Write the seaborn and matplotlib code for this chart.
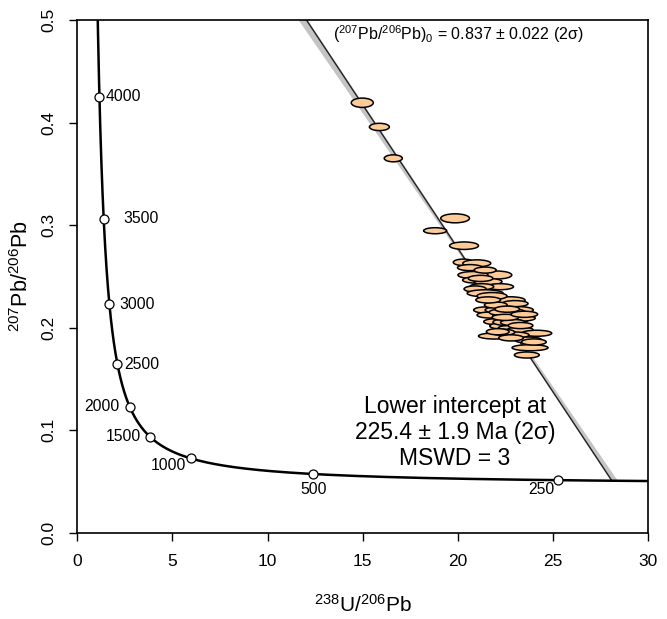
import numpy as np
import pandas as pd
import matplotlib
matplotlib.use("Agg")
import matplotlib.pyplot as plt
import seaborn as sns
from matplotlib.patches import Ellipse

# ---- constants of the U-Pb system (Tera-Wasserburg concordia) ----
LAMBDA238 = 1.55125e-10
LAMBDA235 = 9.8485e-10
U238_U235 = 137.818

# ---- chart values ----
age_marks = [250, 500, 1000, 1500, 2000, 2500, 3000, 3500, 4000]
pb0 = 0.837          # (207Pb/206Pb)0
pb0_err = 0.022
lower_age = 225.4    # Ma
lower_age_err = 1.9
mswd = 3

# measured ellipses: centre U238/Pb206, centre Pb207/Pb206, full width, full height
ell_x = [14.98, 15.88, 16.61, 19.86, 18.81, 20.33, 20.29, 21.00, 22.05, 20.80,
         20.91, 21.59, 22.22, 21.26, 20.91, 21.44, 22.22, 22.40, 21.44, 21.70,
         22.58, 23.10, 23.01, 22.05, 22.31, 22.75, 23.28, 24.15, 21.96, 23.01,
         23.71, 23.80, 23.63, 22.75, 21.80, 20.64, 23.28, 22.64, 22.07, 22.86,
         22.37, 21.44, 23.01, 22.30, 22.90, 22.50, 23.30, 22.00, 21.60, 23.50,
         22.80, 22.10, 24.00, 21.20, 22.60]
ell_y = [0.4193, 0.3957, 0.3651, 0.3066, 0.2945, 0.2799, 0.2637, 0.2627, 0.2513, 0.2513,
         0.2464, 0.2448, 0.2399, 0.2399, 0.2377, 0.2335, 0.2253, 0.2204, 0.2172, 0.2123,
         0.2123, 0.2172, 0.2074, 0.2058, 0.2016, 0.1993, 0.1977, 0.1945, 0.1918, 0.1928,
         0.1879, 0.1804, 0.1733, 0.2267, 0.2308, 0.2585, 0.2092, 0.2054, 0.2172, 0.2152,
         0.1955, 0.2561, 0.2234, 0.2150, 0.2050, 0.2100, 0.2020, 0.2220, 0.2270, 0.2130,
         0.1900, 0.1960, 0.1860, 0.2480, 0.2180]
ell_w = [1.16, 1.05, 0.95, 1.51, 1.21, 1.52, 1.05, 1.47, 1.58, 1.58,
         1.31, 1.47, 1.42, 1.26, 1.16, 1.89, 1.37, 1.47, 1.21, 1.37,
         1.47, 1.74, 1.37, 1.37, 1.26, 1.26, 1.37, 1.58, 1.74, 1.47,
         1.42, 1.89, 1.31, 1.58, 1.58, 1.31, 1.58, 1.58, 1.26, 1.37,
         1.26, 1.16, 1.37, 1.30, 1.30, 1.40, 1.30, 1.20, 1.30, 1.40,
         1.30, 1.20, 1.30, 1.30, 1.30]
ell_h = [0.0091, 0.0071, 0.0068, 0.0088, 0.0059, 0.0073, 0.0063, 0.0068, 0.0078, 0.0068,
         0.0059, 0.0063, 0.0059, 0.0059, 0.0059, 0.0068, 0.0059, 0.0068, 0.0059, 0.0059,
         0.0068, 0.0068, 0.0068, 0.0059, 0.0059, 0.0059, 0.0059, 0.0059, 0.0059, 0.0059,
         0.0059, 0.0059, 0.0059, 0.0068, 0.0068, 0.0059, 0.0059, 0.0068, 0.0059, 0.0059,
         0.0059, 0.0059, 0.0059, 0.0060, 0.0060, 0.0060, 0.0060, 0.0060, 0.0060, 0.0060,
         0.0060, 0.0060, 0.0060, 0.0060, 0.0060]

x_ticks = [0, 5, 10, 15, 20, 25, 30]
y_ticks = [0.0, 0.1, 0.2, 0.3, 0.4, 0.5]


def tera_wasserburg(t_ma):
    t = np.asarray(t_ma, dtype=float) * 1e6
    e8 = np.expm1(LAMBDA238 * t)
    e5 = np.expm1(LAMBDA235 * t)
    return 1.0 / e8, e5 / e8 / U238_U235


# ---- style ----
sns.set_theme(style="ticks")
plt.rcParams["font.family"] = ["Liberation Sans", "DejaVu Sans"]
plt.rcParams["mathtext.fontset"] = "custom"
plt.rcParams["mathtext.rm"] = "Liberation Sans"
plt.rcParams["mathtext.it"] = "Liberation Sans:italic"
plt.rcParams["mathtext.bf"] = "Liberation Sans:bold"
plt.rcParams["text.color"] = "black"
plt.rcParams["axes.labelcolor"] = "black"

fig = plt.figure(figsize=(6.67, 6.19), dpi=100)
ax = fig.add_axes([0.1159, 0.1394, 0.8556, 0.8283])

# ---- discordia error envelope and line ----
xa, ya = tera_wasserburg(lower_age)
xb, yb = tera_wasserburg(lower_age - lower_age_err)
yy = np.linspace(min(ya, yb), 0.55, 200)
x_line = (pb0 - yy) / (pb0 - ya) * xa
x_env = (pb0 - pb0_err - yy) / (pb0 - pb0_err - yb) * xb
ax.fill_betweenx(yy, np.minimum(x_line, x_env) - 0.06, np.maximum(x_line, x_env) + 0.06,
                 color="#c4c4c4", lw=0, zorder=1)
disc = pd.DataFrame({"x": [0.0, xa], "y": [pb0, ya]})
sns.lineplot(data=disc, x="x", y="y", ax=ax, color="#222222", lw=1.0, sort=False, zorder=2)

# ---- concordia ----
t_curve = np.linspace(150, 4600, 800)
cx, cy = tera_wasserburg(t_curve)
conc = pd.DataFrame({"x": cx, "y": cy})
sns.lineplot(data=conc, x="x", y="y", ax=ax, color="black", lw=1.8, sort=False, zorder=3)

# ---- ellipses ----
for x, y, w, h in zip(ell_x, ell_y, ell_w, ell_h):
    ax.add_patch(Ellipse((x, y), w, h, facecolor="#fdca98", edgecolor="black",
                         lw=1.1, zorder=4))

# ---- age markers ----
mx, my = tera_wasserburg(age_marks)
marks = pd.DataFrame({"x": mx, "y": my, "age": age_marks})
sns.scatterplot(data=marks, x="x", y="y", ax=ax, s=42, color="white",
                edgecolor="black", linewidth=0.9, zorder=6, legend=False)
label_offsets = {
    250: (-12, -7, "center", "center"),
    500: (0, -11, "center", "center"),
    1000: (-3, -5.5, "right", "center"),
    1500: (-6.5, 0, "right", "center"),
    2000: (-7, 0, "right", "center"),
    2500: (5, 0, "left", "center"),
    3000: (7, 0, "left", "center"),
    3500: (14, 0, "left", "center"),
    4000: (4.5, 0, "left", "center"),
}
for a, x, y in zip(age_marks, mx, my):
    dx, dy, ha, va = label_offsets[a]
    ax.annotate(str(a), (x, y), xytext=(dx, dy), textcoords="offset points",
                ha=ha, va=va, fontsize=11.3, color="black", zorder=7)

# ---- annotations ----
ax.text(0.448, 0.9727,
        r"($^{207}$Pb/$^{206}$Pb)$_0$ = " + f"{pb0:.3f} ± {pb0_err:.3f} (2σ)",
        transform=ax.transAxes, ha="left", va="center", fontsize=11.5, color="black")
ax.text(0.662, 0.196,
        f"Lower intercept at\n{lower_age:.1f} ± {lower_age_err:.1f} Ma (2σ)\nMSWD = {mswd}",
        transform=ax.transAxes, ha="center", va="center", fontsize=16.5,
        linespacing=1.17, color="black")

# ---- axes ----
ax.set_xlim(0, 30)
ax.set_ylim(0, 0.5)
ax.set_xticks(x_ticks)
ax.set_xticklabels([str(v) for v in x_ticks])
ax.set_yticks(y_ticks)
ax.set_yticklabels([f"{v:.1f}" for v in y_ticks], rotation=90, va="center")
ax.tick_params(axis="both", direction="out", length=6, width=1, color="black",
               labelsize=12.5, pad=9, labelcolor="black")
for sp in ax.spines.values():
    sp.set_visible(True)
    sp.set_color("black")
    sp.set_linewidth(1.2)
ax.set_xlabel(r"$^{238}$U/$^{206}$Pb", fontsize=15, labelpad=18, color="black")
ax.set_ylabel(r"$^{207}$Pb/$^{206}$Pb", fontsize=15.5, labelpad=6, color="black")
ax.grid(False)

fig.savefig("out.png", dpi=100)
